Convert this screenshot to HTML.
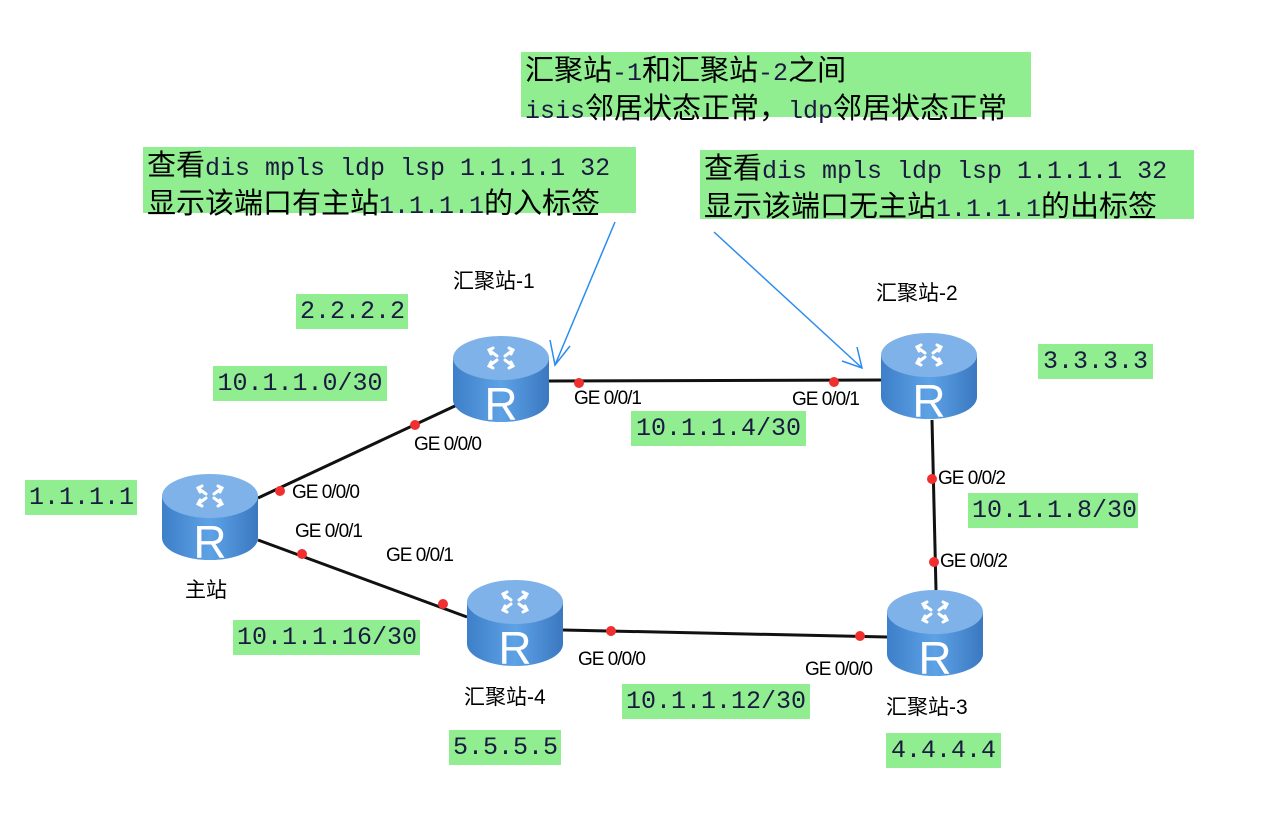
<!DOCTYPE html>
<html><head><meta charset="utf-8"><style>
body{margin:0;width:1269px;height:827px;background:#fff;position:relative;overflow:hidden}
.g{position:absolute;background:#90ee90;color:#1a1a40;font-family:"Liberation Mono","Noto Sans CJK SC",monospace;font-size:25px;line-height:31px;white-space:nowrap;padding:0 4px;box-sizing:border-box}
.g .c{font-family:"Noto Sans CJK SC",sans-serif;font-size:29px;color:#000}
.g.s{line-height:35px;text-align:center}
.n{position:absolute;font-family:"Liberation Sans","Noto Sans CJK SC",sans-serif;font-size:21px;color:#000;white-space:nowrap}
.p{position:absolute;font-family:"Liberation Sans",sans-serif;font-size:19px;color:#000;white-space:nowrap;letter-spacing:-1px}
svg{position:absolute;left:0;top:0}
</style></head><body>
<svg width="1269" height="827">
<defs>
<linearGradient id="bd" x1="0" x2="1" y1="0" y2="0"><stop offset="0" stop-color="#3d7fc8"/><stop offset="0.5" stop-color="#5ea2e6"/><stop offset="1" stop-color="#3a78c0"/></linearGradient>
<g id="r">
<path d="M0,22 L0,64 A48,22 0 0 0 96,64 L96,22 Z" fill="url(#bd)"/>
<ellipse cx="48" cy="22" rx="48" ry="22" fill="#7fb2e8"/>
<g stroke="#fff" stroke-width="3" fill="none" stroke-linecap="round">
<path d="M36,14 L44,20 M40,12 L36,14 L38,18"/><path d="M60,14 L52,20 M56,12 L60,14 L58,18"/>
<path d="M36,30 L44,24 M38,26 L36,30 L40,32"/><path d="M60,30 L52,24 M58,26 L60,30 L56,32"/>
</g>
<text x="48" y="84" text-anchor="middle" font-family="Liberation Sans,sans-serif" font-size="46" fill="#fff">R</text>
</g>
</defs>
<g stroke="#111" stroke-width="3">
<line x1="258" y1="498" x2="457" y2="405"/>
<line x1="258" y1="540" x2="467" y2="617"/>
<line x1="549" y1="381" x2="882" y2="380"/>
<line x1="563" y1="630" x2="887" y2="637"/>
<line x1="932" y1="420" x2="936" y2="590"/>
</g>
<use href="#r" x="162" y="474"/>
<use href="#r" x="453" y="336"/>
<use href="#r" x="881" y="333"/>
<use href="#r" x="467" y="580"/>
<use href="#r" x="887" y="590"/>
<g fill="#f03030">
<circle cx="280" cy="491" r="5"/><circle cx="415" cy="425" r="5"/><circle cx="302" cy="554" r="5"/><circle cx="443" cy="604" r="5"/>
<circle cx="579" cy="383" r="5"/><circle cx="834" cy="382" r="5"/><circle cx="932" cy="479" r="5"/><circle cx="934" cy="562" r="5"/>
<circle cx="611" cy="631" r="5"/><circle cx="860" cy="636" r="5"/>
</g>
<g stroke="#2b8cf0" stroke-width="1.5" fill="none">
<line x1="615" y1="222" x2="555" y2="365"/>
<path d="M550,340 L555,365 L570,346"/>
<line x1="714" y1="232" x2="862" y2="368"/>
<path d="M842,361 L862,368 L857,347"/>
</g>
</svg>
<div class="g" style="left:521px;top:52px;width:510px;height:65px;line-height:32px"><span class="c">汇聚站</span>-1<span class="c">和汇聚站</span>-2<span class="c">之间</span><br>isis<span class="c">邻居状态正常，</span>ldp<span class="c">邻居状态正常</span></div>
<div class="g" style="left:143px;top:147px;width:493px;height:66px;line-height:32px"><span class="c">查看</span>dis mpls ldp lsp 1.1.1.1 32<br><span class="c">显示该端口有主站</span>1.1.1.1<span class="c">的入标签</span></div>
<div class="g" style="left:700px;top:150px;width:494px;height:69px;line-height:33px"><span class="c">查看</span>dis mpls ldp lsp 1.1.1.1 32<br><span class="c">显示该端口无主站</span>1.1.1.1<span class="c">的出标签</span></div>
<div class="g s" style="left:296px;top:294px;width:112px">2.2.2.2</div>
<div class="g s" style="left:213px;top:366px;width:174px">10.1.1.0/30</div>
<div class="g s" style="left:25px;top:480px;width:112px">1.1.1.1</div>
<div class="g s" style="left:631px;top:411px;width:175px">10.1.1.4/30</div>
<div class="g s" style="left:1038px;top:344px;width:115px">3.3.3.3</div>
<div class="g s" style="left:968px;top:493px;width:170px">10.1.1.8/30</div>
<div class="g s" style="left:233px;top:620px;width:187px">10.1.1.16/30</div>
<div class="g s" style="left:622px;top:684px;width:188px">10.1.1.12/30</div>
<div class="g s" style="left:449px;top:730px;width:112px">5.5.5.5</div>
<div class="g s" style="left:886px;top:733px;width:115px">4.4.4.4</div>
<div class="n" style="left:453px;top:265px">汇聚站-1</div>
<div class="n" style="left:876px;top:277px">汇聚站-2</div>
<div class="n" style="left:185px;top:574px">主站</div>
<div class="n" style="left:464px;top:681px">汇聚站-4</div>
<div class="n" style="left:886px;top:691px">汇聚站-3</div>
<div class="p" style="left:414px;top:434px">GE 0/0/0</div>
<div class="p" style="left:292px;top:482px">GE 0/0/0</div>
<div class="p" style="left:295px;top:521px">GE 0/0/1</div>
<div class="p" style="left:386px;top:545px">GE 0/0/1</div>
<div class="p" style="left:574px;top:388px">GE 0/0/1</div>
<div class="p" style="left:792px;top:389px">GE 0/0/1</div>
<div class="p" style="left:938px;top:468px">GE 0/0/2</div>
<div class="p" style="left:940px;top:551px">GE 0/0/2</div>
<div class="p" style="left:578px;top:649px">GE 0/0/0</div>
<div class="p" style="left:805px;top:659px">GE 0/0/0</div>
</body></html>
